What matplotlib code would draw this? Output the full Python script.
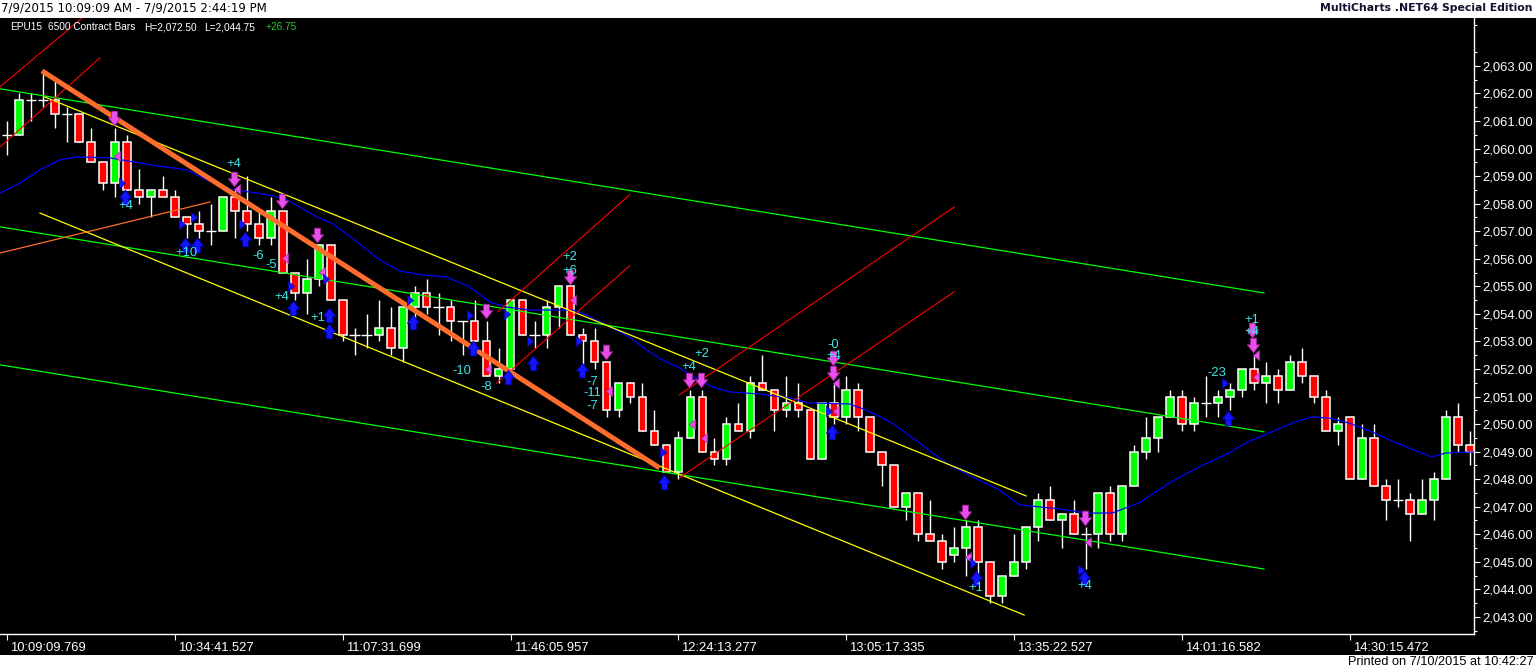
import numpy as np
import matplotlib.pyplot as plt
from matplotlib.path import Path
from matplotlib.patches import Rectangle
from matplotlib.transforms import ScaledTranslation

plt.rcParams['font.family'] = ['Liberation Sans', 'DejaVu Sans']

# --- bars (6500 contract bars, EPU15) ---
opens = [2060.50, 2060.50, 2061.75, 2061.75, 2061.75, 2061.25, 2061.25, 2060.25, 2059.50, 2058.75,
         2060.25, 2058.50, 2058.25, 2058.50, 2058.25, 2057.50, 2057.25, 2057.00, 2057.00, 2058.25,
         2057.75, 2057.25, 2056.75, 2057.75, 2055.50, 2054.75, 2055.25, 2056.50, 2054.50, 2053.25,
         2053.25, 2053.25, 2053.50, 2052.75, 2054.25, 2054.75, 2054.25, 2054.25, 2053.75, 2053.75,
         2053.00, 2051.75, 2052.00, 2054.50, 2053.25, 2053.25, 2054.25, 2055.00, 2053.25, 2053.00,
         2052.25, 2050.50, 2051.50, 2051.00, 2049.75, 2049.25, 2048.25, 2049.50, 2051.00, 2049.00,
         2048.75, 2050.00, 2049.75, 2051.50, 2051.25, 2050.50, 2050.75, 2050.50, 2048.75, 2050.75,
         2050.25, 2051.25, 2050.25, 2049.00, 2048.50, 2047.00, 2047.50, 2046.00, 2045.75, 2045.25,
         2045.50, 2046.25, 2045.00, 2043.75, 2044.50, 2045.00, 2046.25, 2047.25, 2046.50, 2046.75,
         2046.00, 2046.00, 2047.50, 2046.00, 2047.75, 2049.00, 2049.50, 2050.25, 2051.00, 2050.00,
         2050.75, 2050.75, 2051.00, 2051.25, 2052.00, 2051.50, 2051.75, 2051.25, 2052.25, 2051.75,
         2051.00, 2049.75, 2050.25, 2048.00, 2049.50, 2047.75, 2047.25, 2047.25, 2046.75, 2047.25,
         2048.00, 2050.25, 2049.25]
highs = [2061.00, 2062.00, 2062.00, 2062.75, 2062.50, 2061.50, 2061.25, 2060.75, 2059.50, 2060.75,
         2060.50, 2059.25, 2058.50, 2059.00, 2058.50, 2057.50, 2057.75, 2058.00, 2058.25, 2058.50,
         2059.00, 2057.75, 2058.25, 2057.75, 2055.50, 2056.00, 2056.50, 2056.50, 2054.50, 2053.50,
         2054.00, 2054.50, 2054.25, 2054.25, 2055.00, 2055.25, 2054.75, 2054.50, 2053.75, 2054.50,
         2053.75, 2052.75, 2054.50, 2054.50, 2053.75, 2054.50, 2055.00, 2055.00, 2053.50, 2053.50,
         2052.25, 2051.50, 2051.50, 2051.50, 2050.50, 2049.25, 2049.75, 2051.25, 2051.25, 2049.50,
         2050.25, 2050.75, 2051.75, 2052.50, 2051.25, 2051.75, 2051.50, 2050.50, 2050.75, 2051.50,
         2051.75, 2051.50, 2050.25, 2049.00, 2048.50, 2047.50, 2047.50, 2047.25, 2046.00, 2046.25,
         2046.50, 2046.50, 2045.00, 2044.50, 2046.00, 2046.25, 2047.50, 2047.75, 2046.75, 2047.25,
         2046.25, 2047.50, 2047.75, 2047.75, 2049.25, 2050.25, 2050.25, 2051.25, 2051.25, 2051.00,
         2051.75, 2051.25, 2051.50, 2052.00, 2052.50, 2052.25, 2052.00, 2052.50, 2052.75, 2051.75,
         2051.25, 2050.25, 2050.25, 2050.00, 2050.00, 2048.00, 2048.00, 2047.50, 2048.00, 2048.25,
         2050.50, 2050.75, 2049.75]
lows = [2059.75, 2060.50, 2061.00, 2061.50, 2060.75, 2060.25, 2060.25, 2059.50, 2058.50, 2058.25,
        2058.50, 2058.00, 2057.50, 2058.25, 2057.50, 2056.75, 2056.75, 2056.50, 2057.00, 2056.75,
        2057.00, 2056.50, 2056.50, 2055.50, 2054.50, 2054.00, 2055.00, 2054.50, 2053.00, 2052.50,
        2052.75, 2053.00, 2052.50, 2052.25, 2053.50, 2054.00, 2053.25, 2053.00, 2052.50, 2053.00,
        2051.75, 2051.50, 2051.75, 2053.25, 2052.75, 2052.75, 2053.50, 2053.25, 2051.75, 2052.00,
        2050.25, 2050.25, 2050.75, 2049.75, 2049.25, 2048.25, 2048.00, 2049.50, 2049.00, 2048.50,
        2048.50, 2049.75, 2049.50, 2051.25, 2049.75, 2050.25, 2050.25, 2048.75, 2048.75, 2050.00,
        2050.00, 2049.75, 2049.00, 2047.75, 2047.00, 2046.50, 2045.75, 2045.75, 2044.75, 2045.00,
        2044.50, 2044.25, 2043.50, 2043.50, 2044.50, 2044.75, 2045.75, 2046.50, 2045.50, 2046.00,
        2044.75, 2045.50, 2045.75, 2045.75, 2047.75, 2048.75, 2049.00, 2050.25, 2049.75, 2049.75,
        2050.25, 2050.25, 2050.50, 2051.00, 2051.25, 2050.75, 2050.75, 2051.25, 2051.50, 2050.75,
        2049.75, 2049.25, 2048.00, 2048.00, 2047.75, 2046.50, 2047.00, 2045.75, 2046.75, 2046.50,
        2048.00, 2049.00, 2048.50]
closes = [2060.50, 2061.75, 2061.75, 2061.75, 2061.25, 2061.25, 2060.25, 2059.50, 2058.75, 2060.25,
          2058.50, 2058.25, 2058.50, 2058.25, 2057.50, 2057.25, 2057.00, 2057.00, 2058.25, 2057.75,
          2057.25, 2056.75, 2057.75, 2055.50, 2054.75, 2055.25, 2056.50, 2054.50, 2053.25, 2053.25,
          2053.25, 2053.50, 2052.75, 2054.25, 2054.75, 2054.25, 2054.25, 2053.75, 2053.75, 2053.00,
          2051.75, 2052.00, 2054.50, 2053.25, 2053.25, 2054.25, 2055.00, 2053.25, 2053.00, 2052.25,
          2050.50, 2051.50, 2051.00, 2049.75, 2049.25, 2048.25, 2049.50, 2051.00, 2049.00, 2048.75,
          2050.00, 2049.75, 2051.50, 2051.25, 2050.50, 2050.75, 2050.50, 2048.75, 2050.75, 2050.25,
          2051.25, 2050.25, 2049.00, 2048.50, 2047.00, 2047.50, 2046.00, 2045.75, 2045.00, 2045.50,
          2046.25, 2045.00, 2043.75, 2044.50, 2045.00, 2046.25, 2047.25, 2046.50, 2046.75, 2046.00,
          2046.00, 2047.50, 2046.00, 2047.75, 2049.00, 2049.50, 2050.25, 2051.00, 2050.00, 2050.75,
          2050.75, 2051.00, 2051.25, 2052.00, 2051.50, 2051.75, 2051.25, 2052.25, 2051.75, 2051.00,
          2049.75, 2050.00, 2048.00, 2049.50, 2047.75, 2047.25, 2047.25, 2046.75, 2047.25, 2048.00,
          2050.25, 2049.25, 2049.00]

# blue average line, read at sample points (bar index, price)
ma_x = [-0.58, 1.08, 2.75, 4.42, 5.83, 8.58, 10.5, 12.5, 15.0, 16.67, 18.83, 20.83, 23.0, 24.42,
        25.83, 27.17, 29.0, 31.08, 32.75, 34.67, 36.67, 38.58, 40.25, 41.67, 43.58, 47.17, 48.33,
        50.0, 51.92, 53.33, 54.67, 56.08, 57.75, 58.83, 60.25, 62.75, 65.25, 66.92, 70.25, 71.67,
        73.83, 76.08, 78.33, 80.5, 82.75, 84.42, 87.75, 90.0, 92.17, 94.42, 96.92, 99.42, 101.92,
        103.33, 105.5, 107.17, 108.83, 110.25, 111.92, 113.83, 115.83, 117.75, 118.83, 120.0, 122.4]
ma_y = [2058.39, 2058.75, 2059.23, 2059.59, 2059.70, 2059.66, 2059.52, 2059.37, 2059.23, 2058.86,
        2058.50, 2058.39, 2058.21, 2057.88, 2057.52, 2057.27, 2056.68, 2055.96, 2055.56, 2055.41,
        2055.34, 2054.98, 2054.43, 2054.25, 2054.14, 2054.14, 2053.96, 2053.60, 2053.16, 2052.69,
        2052.33, 2052.04, 2051.60, 2051.35, 2051.17, 2051.09, 2050.95, 2050.77, 2050.73, 2050.51,
        2050.04, 2049.32, 2048.59, 2048.08, 2047.61, 2047.07, 2046.92, 2046.77, 2046.77, 2047.14,
        2047.86, 2048.44, 2048.95, 2049.32, 2049.72, 2050.04, 2050.26, 2050.22, 2050.04, 2049.72,
        2049.32, 2048.99, 2048.81, 2048.95, 2048.99]

# drawn trend lines: ((x0, y0), (x1, y1)) in bar index / price
green_lines = [((-0.58, 2062.17), (104.83, 2054.76)),
               ((-0.58, 2057.16), (104.83, 2049.72)),
               ((-0.58, 2052.15), (104.83, 2044.74))]
yellow_lines = [((3.17, 2061.87), (85.0, 2047.39)),
                ((2.75, 2057.66), (84.83, 2043.07))]
red_lines = [((-0.58, 2062.24), (6.25, 2064.74)),
             ((-0.58, 2060.06), (7.75, 2063.29)),
             ((40.92, 2054.07), (51.92, 2058.32)),
             ((40.83, 2051.49), (51.92, 2055.74)),
             ((56.08, 2051.06), (79.0, 2057.88)),
             ((56.08, 2048.05), (79.0, 2054.80))]
orange_thin = ((-0.58, 2056.21), (16.92, 2058.06))
orange_thick = ((2.92, 2062.82), (54.42, 2048.41))

# signal markers
mag_down_x = [8.92, 18.92, 22.92, 25.83, 39.92, 46.92, 49.92, 56.92, 57.92, 68.92, 68.92, 79.92, 89.92, 103.83, 103.92]
mag_down_y = [2061.11, 2058.90, 2058.10, 2056.87, 2054.11, 2055.34, 2052.62, 2051.60, 2051.60, 2052.40, 2051.86,
              2046.81, 2046.59, 2053.42, 2052.87]
mag_left_x = [9.17, 19.17, 23.17, 26.25, 40.08, 47.17, 50.17, 57.17, 58.17, 69.17, 69.17, 80.17, 90.17, 104.17, 104.17]
mag_left_y = [2059.73, 2058.54, 2056.03, 2055.52, 2052.00, 2054.51, 2051.20, 2050.01, 2049.50, 2051.49, 2050.48,
              2045.18, 2045.72, 2052.51, 2051.71]
blue_right_x = [9.58, 14.58, 15.58, 19.58, 23.67, 26.58, 33.58, 38.58, 41.67, 43.58, 47.67, 54.67, 68.58, 80.58,
                89.58, 101.58]
blue_right_y = [2058.75, 2057.26, 2057.52, 2057.26, 2055.01, 2055.27, 2054.51, 2053.96, 2054.00, 2053.02, 2053.02,
                2048.99, 2050.48, 2044.96, 2044.71, 2051.49]
blue_up_x = [9.83, 14.83, 15.83, 19.83, 23.83, 26.83, 26.83, 33.83, 38.83, 41.75, 43.83, 47.92, 54.83, 68.83,
             80.83, 89.83, 101.83]
blue_up_y = [2058.24, 2056.50, 2056.50, 2056.72, 2054.22, 2053.96, 2053.38, 2053.71, 2052.76, 2051.71, 2052.22,
             2051.97, 2047.90, 2049.71, 2044.42, 2044.42, 2050.22]

sig_text = ["+4", "+4", "+10", "-6", "-5", "+4", "+1", "-10", "-8", "+2", "+6", "-7", "-11", "-7",
            "+2", "+4", "-0", "+4", "+1", "+4", "+1", "+4", "-23"]
sig_x = [9.92, 18.92, 15.0, 20.92, 22.0, 22.92, 25.92, 37.92, 40.0, 46.92, 46.92, 48.83, 48.83, 48.83,
         57.92, 56.83, 68.92, 68.92, 80.83, 89.92, 103.83, 103.83, 100.92]
sig_y = [2057.92, 2059.44, 2056.21, 2056.10, 2055.78, 2054.62, 2053.85, 2051.93, 2051.35, 2056.07, 2055.56,
         2051.53, 2051.13, 2050.66, 2052.55, 2052.07, 2052.87, 2052.47, 2044.05, 2044.12, 2053.78, 2053.34,
         2051.86]

tick_bars = [0, 14, 28, 42, 56, 70, 84, 98, 112]
tick_times = ["10:09:09.769", "10:34:41.527", "11:07:31.699", "11:46:05.957", "12:24:13.277",
              "13:05:17.335", "13:35:22.527", "14:01:16.582", "14:30:15.472"]
price_ticks = list(range(2043, 2064))

# --- figure ---
W, H = 1536, 670
fig = plt.figure(figsize=(W / 100, H / 100), dpi=100, facecolor='white')
fig.patches.append(Rectangle((0, 15 / H), 1, (655 - 18) / H, transform=fig.transFigure,
                             facecolor='black', edgecolor='none', zorder=0))

ax = fig.add_axes([0, (H - 634) / H, 1474 / W, (634 - 18) / H])
ax.set_zorder(2)
ax.set_facecolor('black')

o = np.array(opens); h = np.array(highs); l = np.array(lows); c = np.array(closes)
idx = np.arange(len(o))

ax.vlines(idx, l, h, color='white', lw=1.0, zorder=2)
body = c != o
cols = np.where(c > o, '#00ff00', '#ff0000')
ax.bar(idx[body], np.abs(c - o)[body], bottom=np.minimum(o, c)[body], width=0.64,
       color=cols[body], edgecolor='white', linewidth=1.1, zorder=3)
doji = ~body
ax.hlines(o[doji], idx[doji] - 0.44, idx[doji] + 0.44, color='white', lw=1.0, zorder=3)

ax.plot(ma_x, ma_y, color='#0000ff', lw=0.9, zorder=4)

for (x0, y0), (x1, y1) in green_lines:
    ax.plot([x0, x1], [y0, y1], color='#00ff00', lw=0.9, zorder=4)
for (x0, y0), (x1, y1) in yellow_lines:
    ax.plot([x0, x1], [y0, y1], color='#ffff00', lw=0.9, zorder=4)
for (x0, y0), (x1, y1) in red_lines:
    ax.plot([x0, x1], [y0, y1], color='#ff0000', lw=0.8, zorder=4)
ax.plot([orange_thin[0][0], orange_thin[1][0]], [orange_thin[0][1], orange_thin[1][1]],
        color='#ff6d2d', lw=0.9, zorder=4)
ax.plot([orange_thick[0][0], orange_thick[1][0]], [orange_thick[0][1], orange_thick[1][1]],
        color='#ff6d2d', lw=3.6, zorder=5, solid_capstyle='butt')

# arrow markers
down_arrow = Path([(-0.2, 0.5), (0.2, 0.5), (0.2, 0.05), (0.42, 0.05), (0, -0.5),
                   (-0.42, 0.05), (-0.2, 0.05), (-0.2, 0.5)])
up_arrow = Path([(-0.2, -0.5), (0.2, -0.5), (0.2, -0.05), (0.42, -0.05), (0, 0.5),
                 (-0.42, -0.05), (-0.2, -0.05), (-0.2, -0.5)])
tri_left = Path([(-0.3, 0), (0.3, -0.5), (0.3, 0.5), (-0.3, 0)])
tri_right = Path([(0.3, 0), (-0.3, -0.5), (-0.3, 0.5), (0.3, 0)])

ax.plot(mag_down_x, mag_down_y, ls='none', marker=down_arrow, ms=10.5, mfc='#e84ee8', mec='#a0209a',
        mew=0.6, zorder=6)
ax.plot(mag_left_x, mag_left_y, ls='none', marker=tri_left, ms=7.5, mfc='#e84ee8', mec='#a0209a',
        mew=0.4, zorder=6)
ax.plot(blue_right_x, blue_right_y, ls='none', marker=tri_right, ms=7.5, mfc='#1414ff', mec='#0000b0',
        mew=0.4, zorder=6)
ax.plot(blue_up_x, blue_up_y, ls='none', marker=up_arrow, ms=10.5, mfc='#1414ff', mec='#0000b0',
        mew=0.6, zorder=6)

for t, x, y in zip(sig_text, sig_x, sig_y):
    ax.text(x, y, t, color='#3fe6e6', fontsize=9.4, ha='center', va='center', zorder=7)

ax.set_xlim(-0.584, 122.35)
ax.set_ylim(2042.38, 2064.74)

for s in ['top', 'left']:
    ax.spines[s].set_visible(False)
for s in ['bottom', 'right']:
    ax.spines[s].set_color('white')
    ax.spines[s].set_linewidth(1)

ax.yaxis.tick_right()
ax.set_yticks(price_ticks)
ax.set_yticklabels([f"{v:,.2f}" for v in price_ticks])
ax.set_yticks([v + 0.5 for v in price_ticks[:-1]] + [2042.5, 2063.5, 2064.5], minor=True)
ax.tick_params(axis='y', which='major', colors='white', length=4, width=0.8, labelsize=9.4, pad=2)
ax.tick_params(axis='y', which='minor', colors='white', length=2, width=0.8)

ax.set_xticks(tick_bars)
ax.set_xticklabels(tick_times)
ax.tick_params(axis='x', colors='white', length=4, width=0.8, labelsize=9.4, pad=1.5)
shift = ScaledTranslation(3 / 100, 0, fig.dpi_scale_trans)
for lab in ax.get_xticklabels():
    lab.set_ha('left')
    lab.set_transform(lab.get_transform() + shift)

# header / footer texts
def px(x, y):
    return x / W, 1 - y / H

fig.text(*px(1, 8), "7/9/2015 10:09:09 AM - 7/9/2015 2:44:19 PM", family='DejaVu Sans',
         fontsize=8.45, color='black', ha='left', va='center')
fig.text(*px(1532, 8), "MultiCharts .NET64 Special Edition", family='DejaVu Sans', fontweight='bold',
         fontsize=7.8, color='#101030', ha='right', va='center')
fig.text(*px(1534, 662), "Printed on 7/10/2015 at 10:42:27", fontsize=9.2, color='black',
         ha='right', va='center')

hdr = [("EPU15", 10, 'white'), ("6500 Contract Bars", 48, 'white'), ("H=2,072.50", 144, 'white'),
       ("L=2,044.75", 204, 'white'), ("+26.75", 265, '#22cc22')]
for t, x, col in hdr:
    fig.text(*px(x, 27), t, fontsize=7.3, color=col, ha='left', va='center', zorder=10)

fig.savefig('out.png', dpi=100, facecolor='white')
